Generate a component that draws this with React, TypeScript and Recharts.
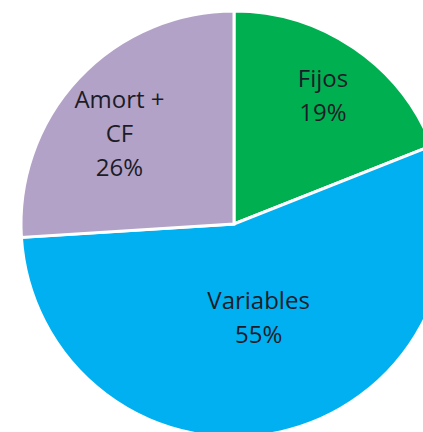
import { PieChart, Pie, Cell } from 'recharts';

const categories = ['Fijos', 'Variables', 'Amort + CF'];
const values = [19, 55, 26];
// how each category label is broken into lines
const labelLines = [['Fijos'], ['Variables'], ['Amort +', 'CF']];

const COLORS = ['#00b050', '#00b0f0', '#b3a2c7'];
// radius fraction and angle nudge (degrees) for each label
const LABEL_POS = [
  { r: 0.734, a: -0.5 },
  { r: 0.452, a: 2.2 },
  { r: 0.685, a: 4.9 },
];
const RAD = Math.PI / 180;
const FONT = 24;
const LINE = 34;
const CAP = 17;

const data = categories.map((name, i) => ({ name, value: values[i] }));

function renderLabel(props: any) {
  const { cx, cy, midAngle, outerRadius, index, percent } = props;
  const pos = LABEL_POS[index];
  const ang = (midAngle + pos.a) * RAD;
  const r = outerRadius * pos.r;
  const x = cx + r * Math.cos(ang);
  const y = cy - r * Math.sin(ang);
  const lines = [...labelLines[index], `${Math.round(percent * 100)}%`];
  // first baseline so the block is centred on (x, y)
  const b1 = y - (LINE * (lines.length - 1) - CAP) / 2;
  return (
    <text
      key={`lbl-${index}`}
      x={x}
      y={b1}
      textAnchor="middle"
      fill="#1c1c28"
      fontSize={FONT}
      fontFamily="'Open Sans', sans-serif"
    >
      {lines.map((t, i) => (
        <tspan key={i} x={x} y={b1 + i * LINE}>
          {t}
        </tspan>
      ))}
    </text>
  );
}

export default function App() {
  return (
    <div style={{ position: 'absolute', left: 0, top: 0, width: 423, height: 432, background: '#fff', overflow: 'hidden' }}>
      <PieChart width={423} height={432} margin={{ top: 0, right: 0, bottom: 0, left: 0 }}>
        <Pie
          data={data}
          dataKey="value"
          nameKey="name"
          cx={234}
          cy={224}
          outerRadius={213}
          startAngle={90}
          endAngle={-270}
          stroke="#ffffff"
          strokeWidth={3}
          label={renderLabel}
          labelLine={false}
          isAnimationActive={false}
        >
          {data.map((d, i) => (
            <Cell key={d.name} fill={COLORS[i]} />
          ))}
        </Pie>
      </PieChart>
    </div>
  );
}
